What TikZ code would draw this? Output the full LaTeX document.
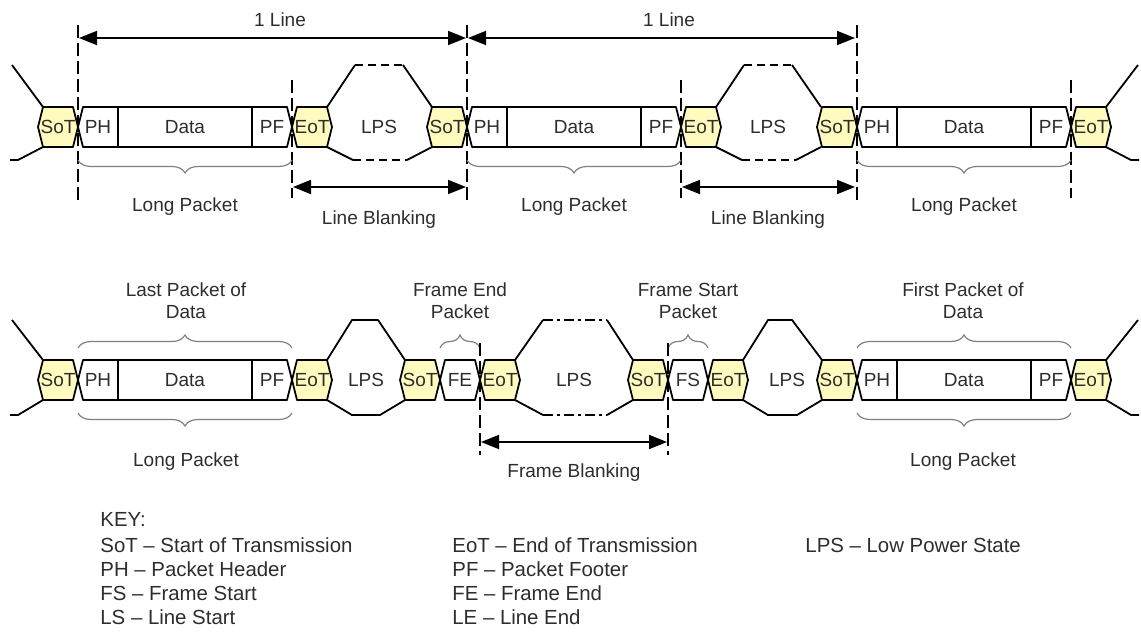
\documentclass[tikz,border=0pt]{standalone}
\usepackage{fontspec}
\setmainfont{Liberation Sans}
\usetikzlibrary{arrows.meta,positioning,decorations.pathreplacing}
\definecolor{tokyellow}{RGB}{255,251,190}
\definecolor{inkgray}{RGB}{45,45,45}

% hexagonal cell: name, left x, mid y, width, text, fill
\newcommand{\hexcell}[6]{%
  \draw[cell,fill=#6] (#2,#3) -- ++(5,-20) -- ++({#4-10},0) -- ++(5,20)
    -- ++(-5,20) -- ++({10-#4},0) -- cycle;
  \node[lbl] (#1) at ({#2+#4/2},#3) {#5};}

% long packet: name, left x, mid y
\newcommand{\longpkt}[3]{%
  \hexcell{#1}{#2}{#3}{214}{Data}{white}
  \draw[cell] ({#2+40},{#3-20}) -- ({#2+40},{#3+20});
  \draw[cell] ({#2+174},{#3-20}) -- ({#2+174},{#3+20});
  \node[lbl] (#1-ph) at ({#2+20},#3) {PH};
  \node[lbl] (#1-pf) at ({#2+194},#3) {PF};}

\begin{document}
\begin{tikzpicture}[
    x=0.5pt, y=-0.5pt,
    lbl/.style={
        font=\fontsize{9.5}{11}\selectfont,
        text=inkgray,
        inner sep=0pt,
        align=center
    },
    cell/.style={draw=black, line width=0.9pt, line join=round},
    wire/.style={line width=0.9pt, line join=round},
    idle/.style={line width=0.9pt, dash pattern=on 4pt off 2.5pt},
    idledot/.style={line width=0.9pt, dash pattern=on 5pt off 2pt on 1.5pt off 2pt},
    marker/.style={line width=0.6pt, dash pattern=on 6.5pt off 2.5pt},
    span/.style={
        line width=0.9pt,
        {Triangle[length=9pt,width=7pt]}-{Triangle[length=9pt,width=7pt]}
    },
    bracket/.style={
        draw=gray, line width=0.6pt,
        decorate, decoration={brace, amplitude=6.5pt}
    },
    keytext/.style={
        font=\fontsize{10.2}{12}\selectfont,
        text=inkgray,
        anchor=west,
        inner sep=0pt
    }
]
\useasboundingbox (0,0) rectangle (1141,643);

% ---------------- Top row: line timing ----------------
\draw[wire] (43,107) -- (12,65);
\draw[wire] (43,147) -- (18,160) -- (10,160);
\draw[wire] (1106,107) -- (1138,65);
\draw[wire] (1106,147) -- (1131,160) -- (1139,160);

\foreach \x [count=\i] in {78,467,857} {
    \hexcell{sotA\i}{\x-40}{127}{40}{SoT}{tokyellow}
    \longpkt{pktA\i}{\x}{127}
    \hexcell{eotA\i}{\x+214}{127}{40}{EoT}{tokyellow}
    \draw[marker] (\x,25) -- (\x,200);
    \draw[marker] (\x+214,80) -- (\x+214,198);
    \draw[bracket] (\x+214,160) -- (\x,160);
    \node[lbl] (longA\i) at (\x+107,207) {Long Packet};
}

% low power state between lines
\foreach \x [count=\i] in {78,467} {
    \draw[wire] (\x+249,107) -- (\x+277,65);
    \draw[idle] (\x+277,65) -- (\x+325,65);
    \draw[wire] (\x+325,65) -- (\x+354,107);
    \draw[wire] (\x+249,147) -- (\x+275,160);
    \draw[idle] (\x+275,160) -- (\x+329,160);
    \draw[wire] (\x+329,160) -- (\x+354,147);
    \node[lbl] (lpsA\i) at (\x+301,127) {LPS};
    % dimension arrows
    \coordinate (lineS\i) at (\x+1,38);
    \coordinate (lineE\i) at (\x+388,38);
    \draw[span] (lineS\i) -- (lineE\i);
    \node[lbl] (oneline\i) at (\x+202,20) {1 Line};
    \coordinate (blankS\i) at (\x+215,187);
    \coordinate (blankE\i) at (\x+388,187);
    \draw[span] (blankS\i) -- (blankE\i);
    \node[lbl] (lineblank\i) at (\x+301,220) {Line Blanking};
}

% ---------------- Bottom row: frame timing ----------------
\draw[wire] (43,360) -- (12,320);
\draw[wire] (43,400) -- (18,415) -- (10,415);
\draw[wire] (1106,360) -- (1138,320);
\draw[wire] (1106,400) -- (1131,415) -- (1139,415);

% LPS after last packet
\draw[wire] (327,360) -- (352,320) -- (378,320) -- (405,360);
\draw[wire] (327,400) -- (352,415) -- (380,415) -- (405,400);
\node[lbl] (lpsB1) at (366,380) {LPS};
% LPS frame blanking
\draw[wire] (515,360) -- (543,320);
\draw[idledot] (543,320) -- (607,320);
\draw[wire] (607,320) -- (633,360);
\draw[wire] (515,400) -- (543,415);
\draw[idledot] (543,415) -- (607,415);
\draw[wire] (607,415) -- (633,400);
\node[lbl] (lpsB2) at (574,380) {LPS};
% LPS before first packet
\draw[wire] (743,360) -- (768,320) -- (792,320) -- (822,360);
\draw[wire] (743,400) -- (768,415) -- (797,415) -- (822,400);
\node[lbl] (lpsB3) at (787,380) {LPS};

\hexcell{sotB1}{38}{380}{40}{SoT}{tokyellow}
\longpkt{pktB1}{78}{380}
\hexcell{eotB1}{292}{380}{40}{EoT}{tokyellow}
\hexcell{sotB2}{400}{380}{40}{SoT}{tokyellow}
\hexcell{fe}{440}{380}{40}{FE}{white}
\hexcell{eotB2}{480}{380}{40}{EoT}{tokyellow}
\hexcell{sotB3}{628}{380}{40}{SoT}{tokyellow}
\hexcell{fs}{668}{380}{40}{FS}{white}
\hexcell{eotB3}{708}{380}{40}{EoT}{tokyellow}
\hexcell{sotB4}{817}{380}{40}{SoT}{tokyellow}
\longpkt{pktB2}{857}{380}
\hexcell{eotB4}{1071}{380}{40}{EoT}{tokyellow}

% braces
\draw[bracket] (78,348) -- (292,348);
\draw[bracket] (857,348) -- (1071,348);
\draw[bracket] (440,348) -- (480,348);
\draw[bracket] (668,348) -- (708,348);
\draw[bracket] (292,413) -- (78,413);
\draw[bracket] (1071,413) -- (857,413);

% frame blanking
\draw[marker] (480,343) -- (480,455);
\draw[marker] (668,343) -- (668,455);
\coordinate (frameS) at (481,442);
\coordinate (frameE) at (667,442);
\draw[span] (frameS) -- (frameE);
\node[lbl] (frameblank) at (574,473) {Frame Blanking};

% labels
\node[lbl] (lastpkt) at (186,301) {Last Packet of\\Data};
\node[lbl] (fepkt) at (460,301) {Frame End\\Packet};
\node[lbl] (fspkt) at (688,301) {Frame Start\\Packet};
\node[lbl] (firstpkt) at (963,301) {First Packet of\\Data};
\node[lbl] (longB1) at (186,462) {Long Packet};
\node[lbl] (longB2) at (963,462) {Long Packet};

% ---------------- Key ----------------
\node[keytext] (keyhead) at (100,519) {KEY:};
\foreach \ltxt/\rtxt [count=\i] in {SoT – Start of Transmission/EoT – End of Transmission,
    PH – Packet Header/PF – Packet Footer,
    FS – Frame Start/FE – Frame End,
    LS – Line Start/LE – Line End} {
    \node[keytext] (keyL\i) at (100,521+24*\i) {\ltxt};
    \node[keytext] (keyR\i) at (452,521+24*\i) {\rtxt};
}
\node[keytext] (keylps) at (805,545) {LPS – Low Power State};

\end{tikzpicture}
\end{document}
